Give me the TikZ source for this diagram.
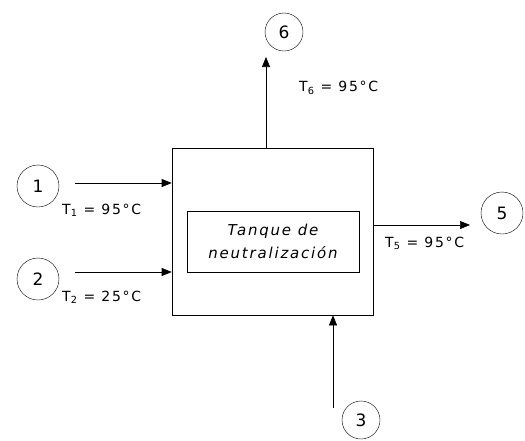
\documentclass[tikz,border=0pt]{standalone}
\usepackage{fontspec}
\setmainfont{DejaVu Sans}[LetterSpace=12]
\usetikzlibrary{arrows.meta,calc,positioning}

\begin{document}
\begin{tikzpicture}[x=1pt,y=-1pt,>={Triangle[length=10pt,width=8pt]},
    stream/.style={circle,draw,thin,minimum size=42pt,inner sep=0pt,
      font=\fontsize{17}{17}\selectfont},
    flow/.style={->,semithick},
    temp/.style={anchor=west,inner sep=0pt,font=\fontsize{14}{14}\selectfont}]
  \useasboundingbox (0,0) rectangle (525,440);
  % tanque y su rotulo
  \node[draw,semithick,minimum width=201pt,minimum height=167pt] (tank) at (272.5,231.5) {};
  \node[draw,semithick,minimum width=172pt,minimum height=61pt,align=center,
    font=\fontsize{15}{23}\selectfont\itshape] (name) at (273,241.5)
    {Tanque de\\neutralización};
  % corrientes
  \node[stream] (s1) at (38,186) {1};
  \node[stream] (s2) at (38,279) {2};
  \node[stream,minimum size=38pt] (s3) at (361,420) {3};
  \node[stream] (s5) at (502,213) {5};
  \node[stream,minimum size=38pt] (s6) at (284,32) {6};
  \coordinate (in1) at (75,183);
  \coordinate (in2) at (75,272);
  \coordinate (in3) at (333,408);
  \coordinate (out5) at (470,225);
  \coordinate (out6) at (266,57);
  \draw[flow] (in1) -- (in1 -| tank.west);
  \draw[flow] (in2) -- (in2 -| tank.west);
  \draw[flow] (in3) -- (in3 |- tank.south);
  \draw[flow] (out5 -| tank.east) -- (out5);
  \draw[flow] (out6 |- tank.north) -- (out6);
  % temperaturas
  \node[temp] (t1) at (62,210) {T\textsubscript{1} = 95°C};
  \node[temp] (t2) at (62,297) {T\textsubscript{2} = 25°C};
  \node[temp] (t5) at (385,243) {T\textsubscript{5} = 95°C};
  \node[temp] (t6) at (299,88) {T\textsubscript{6} = 95°C};
\end{tikzpicture}
\end{document}
